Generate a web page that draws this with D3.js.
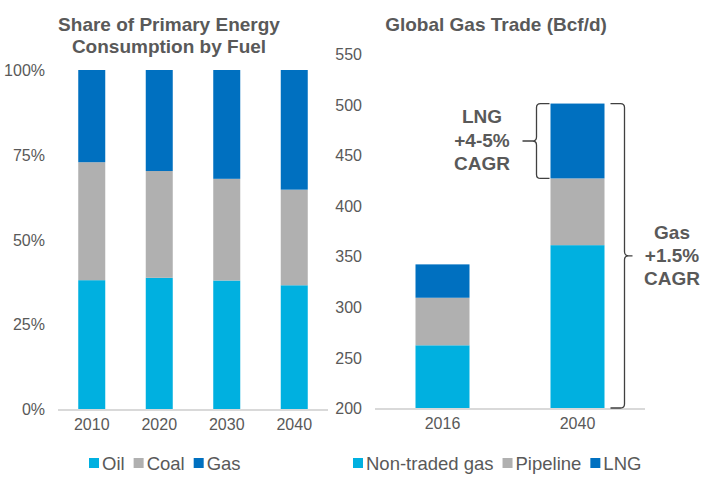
<!DOCTYPE html>
<html>
<head>
<meta charset="utf-8">
<script src="https://cdn.jsdelivr.net/npm/d3@7"></script>
<style>
  body { margin: 0; background: #fff; }
  svg { font-family: "Liberation Sans", Arial, sans-serif; }
  .tick text { fill: #595959; font-size: 16px; }
  .title { fill: #595959; font-size: 19px; font-weight: bold; }
  .note { fill: #595959; font-size: 19px; font-weight: bold; }
  .legend text { fill: #595959; font-size: 18.5px; }
</style>
</head>
<body>
<svg width="707" height="485"></svg>
<script>
// left chart: share of primary energy consumption
var years = ["2010", "2020", "2030", "2040"];
var oil  = [0.380, 0.387, 0.379, 0.365];
var coal = [0.348, 0.315, 0.300, 0.282];
var gas  = [0.272, 0.298, 0.321, 0.353];
var shareTicks = [0, 0.25, 0.5, 0.75, 1];

// right chart: global gas trade, Bcf/d
var tradeYears = ["2016", "2040"];
var nonTraded = [262, 361];
var pipeline  = [47, 66];
var lng       = [33, 74];
var tradeTicks = [200, 250, 300, 350, 400, 450, 500, 550];

var colors = { a: "#00b0e0", b: "#b0b0b0", c: "#0070c0" };

var svg = d3.select("svg");

/** draws one stacked bar chart with its axis, baseline and legend **/
function stacked(opt) {
  var rows = opt.cats.map(function(c, i) {
    return { cat: c, a: opt.a[i], b: opt.b[i], c: opt.c[i] };
  });
  var stack = d3.stack().keys(["a", "b", "c"])(rows);

  var x = d3.scaleBand().domain(opt.cats).range(opt.xRange)
    .paddingInner(0.6).paddingOuter(0.3);
  var y = d3.scaleLinear().domain(opt.yDomain).range(opt.yRange);
  var lo = opt.yDomain[0];

  var g = svg.append("g");

  // bars start at the bottom of the axis, not at zero
  g.selectAll("g.layer")
    .data(stack)
    .enter()
    .append("g")
      .attr("class", "layer")
      .attr("fill", (d) => colors[d.key])
    .selectAll("rect")
    .data((d) => d)
    .enter()
    .append("rect")
      .attr("x", (d) => x(d.data.cat))
      .attr("width", x.bandwidth())
      .attr("y", (d) => y(d[1]))
      .attr("height", (d) => y(Math.max(lo, d[0])) - y(d[1]));

  // baseline
  g.append("line")
    .attr("x1", opt.xRange[0]).attr("x2", opt.xRange[1])
    .attr("y1", y(lo) + 1).attr("y2", y(lo) + 1)
    .attr("stroke", "#d9d9d9").attr("stroke-width", 2);

  // y axis
  g.append("g")
    .attr("transform", "translate(" + opt.labelX + ",0)")
    .call(d3.axisLeft(y).tickValues(opt.ticks).tickSize(0).tickPadding(0)
      .tickFormat(opt.fmt))
    .call((a) => a.select(".domain").remove())
    .selectAll("text").attr("dy", "0.35em");

  // x axis
  g.append("g")
    .attr("transform", "translate(0," + (y(lo) + 10) + ")")
    .call(d3.axisBottom(x).tickSize(0).tickPadding(0))
    .call((a) => a.select(".domain").remove())
    .selectAll("text").attr("dy", "0.71em");

  // legend
  var lg = g.append("g").attr("class", "legend");
  var lx = opt.legendX;
  opt.names.forEach(function(n, i) {
    var key = ["a", "b", "c"][i];
    lg.append("rect").attr("x", lx).attr("y", 458).attr("width", 10).attr("height", 10)
      .attr("fill", colors[key]);
    var t = lg.append("text").attr("x", lx + 13).attr("y", 470).text(n);
    lx += 13 + t.node().getComputedTextLength() + 9;
  });

  return { x: x, y: y };
}

// titles
svg.append("text").attr("class", "title").attr("x", 169).attr("y", 31)
  .attr("text-anchor", "middle").text("Share of Primary Energy");
svg.append("text").attr("class", "title").attr("x", 169).attr("y", 53)
  .attr("text-anchor", "middle").text("Consumption by Fuel");
svg.append("text").attr("class", "title").attr("x", 496).attr("y", 31)
  .attr("text-anchor", "middle").text("Global Gas Trade (Bcf/d)");

stacked({
  cats: years, a: oil, b: coal, c: gas,
  xRange: [58, 328], yDomain: [0, 1], yRange: [409, 70],
  ticks: shareTicks, fmt: d3.format(".0%"), labelX: 45,
  legendX: 89, names: ["Oil", "Coal", "Gas"]
});

var right = stacked({
  cats: tradeYears, a: nonTraded, b: pipeline, c: lng,
  xRange: [375, 645], yDomain: [200, 550], yRange: [408, 54],
  ticks: tradeTicks, fmt: d3.format("d"), labelX: 362,
  legendX: 353, names: ["Non-traded gas", "Pipeline", "LNG"]
});

// brackets on the 2040 bar
var xr = right.x, yr = right.y;
var bx = xr("2040"), bw = xr.bandwidth();
var top2040 = yr(nonTraded[1] + pipeline[1] + lng[1]);
var lngBottom = yr(nonTraded[1] + pipeline[1]);
var bottom = yr(200);

function brace(xv, xTip, xHook, y0, y1) {
  var ym = (y0 + y1) / 2, r = 4, s = xHook > xv ? 1 : -1, t = xTip > xv ? 1 : -1;
  return "M" + xHook + "," + y0 +
    " L" + (xv + s * r) + "," + y0 +
    " Q" + xv + "," + y0 + " " + xv + "," + (y0 + r) +
    " L" + xv + "," + (ym - r) +
    " Q" + xv + "," + ym + " " + (xv + t * r) + "," + ym +
    " L" + xTip + "," + ym +
    " M" + (xv + t * r) + "," + ym +
    " Q" + xv + "," + ym + " " + xv + "," + (ym + r) +
    " L" + xv + "," + (y1 - r) +
    " Q" + xv + "," + y1 + " " + (xv + s * r) + "," + y1 +
    " L" + xHook + "," + y1;
}

svg.append("path")
  .attr("d", brace(bx - 14, bx - 28, bx - 1, top2040, lngBottom))
  .attr("fill", "none").attr("stroke", "#404040").attr("stroke-width", 1.3);
svg.append("path")
  .attr("d", brace(bx + bw + 20, bx + bw + 28, bx + bw + 6, top2040, bottom))
  .attr("fill", "none").attr("stroke", "#404040").attr("stroke-width", 1.3);

var lngNote = ["LNG", "+4-5%", "CAGR"];
var gasNote = ["Gas", "+1.5%", "CAGR"];
lngNote.forEach(function(s, i) {
  svg.append("text").attr("class", "note").attr("x", 482).attr("y", 123 + i * 23.5)
    .attr("text-anchor", "middle").text(s);
});
gasNote.forEach(function(s, i) {
  svg.append("text").attr("class", "note").attr("x", 672).attr("y", 239 + i * 23)
    .attr("text-anchor", "middle").text(s);
});
</script>
</body>
</html>
